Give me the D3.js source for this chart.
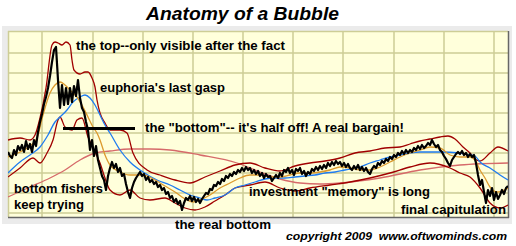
<!DOCTYPE html>
<html><head><meta charset="utf-8">
<script src="https://cdn.jsdelivr.net/npm/d3@7"></script>
<style>html,body{margin:0;padding:0;background:#fff;}svg{display:block;}</style>
</head><body>
<script>
// ---------------- data ----------------
const title = "Anatomy of a Bubble";
const footer = "copyright 2009  www.oftwominds.com";
// price (black), one value every 2 days starting at day 0
const priceStep = 2;
const price = [61,57,55,63,58,67,63,68,61,72,64,69,61,73,67,81,91,99,109,116,125,137,151,163,166,133,105,128,108,125,109,125,111,127,117,133,115,105,101,91,83,63,73,57,67,53,45,37,33,23,37,45,51,45,49,41,45,37,39,29,21,15,25,31,35,38,41,37,39,33,36,31,33,29,31,26,28,23,25,19,21,15,17,11,14,9,12,3,10,15,13,17,12,16,11,14,10,14,17,20,19,24,23,28,27,31,29,34,32,37,35,39,37,41,39,43,41,45,42,46,43,45,40,43,39,42,37,40,35,39,36,37,32,35,38,35,40,37,43,41,45,40,43,38,44,42,45,39,42,37,41,39,44,42,46,43,47,44,48,45,50,47,51,48,52,49,51,47,50,46,49,45,43,47,44,48,43,46,42,45,41,39,44,47,45,50,48,52,50,54,52,56,54,58,56,60,58,62,59,63,60,63,61,65,63,67,64,68,65,67,70,68,73,69,66,68,63,61,57,54,50,47,53,56,59,61,59,62,58,60,56,59,56,58,50,38,28,33,21,10,23,17,25,13,21,14,18,23,19,25,27];
// moving averages and bands: [day, value]
const ma50 = [[0,56],[12,61],[22,67],[29,75],[35,98],[42,120],[47,128],[52,131],[57,128],[62,123],[69,116],[75,106],[80,96],[85,86],[89,80],[92,73],[97,58],[102,48],[112,41],[122,38],[135,38],[147,33],[157,27],[167,21],[179,13],[185,11],[192,13],[202,18],[212,25],[222,30],[232,35],[242,38],[252,38],[262,36],[272,36],[282,38],[292,40],[302,40],[312,41],[322,43],[332,46],[342,45],[352,43],[362,43],[372,46],[382,51],[392,56],[402,60],[412,63],[422,66],[432,65],[442,58],[452,56],[462,56],[467,53],[472,43],[477,35],[482,26],[489,21],[500,25]];
const ma200 = [[0,40],[12,51],[22,58],[32,66],[40,78],[47,91],[52,96],[59,103],[65,111],[72,116],[77,118],[82,115],[87,108],[92,98],[97,88],[102,80],[112,63],[122,51],[135,41],[149,33],[162,28],[172,23],[182,18],[192,15],[199,13],[207,15],[217,18],[227,25],[237,28],[247,31],[257,34],[267,35],[277,35],[287,36],[297,37],[307,38],[317,40],[327,41],[337,43],[352,46],[362,50],[372,53],[382,56],[392,58],[402,60],[412,61],[432,61],[452,60],[462,58],[467,57],[472,51],[482,45],[492,38],[500,33]];
const maLong = [[0,16],[22,26],[42,35],[57,43],[72,53],[87,60],[102,62],[122,64],[142,64],[162,63],[192,58],[229,50],[252,41],[272,34],[292,30],[312,29],[332,30],[372,35],[412,43],[452,48],[500,50]];
const bandUpper = [[0,73],[12,75],[22,73],[27,78],[32,95],[38,125],[44,168],[47,171],[50,170],[54,168],[58,171],[62,168],[64,153],[66,143],[72,139],[77,141],[80,141],[84,135],[87,126],[89,113],[92,100],[97,90],[102,83],[112,83],[119,80],[125,60],[139,43],[152,38],[167,33],[182,30],[197,36],[212,42],[227,48],[242,50],[257,45],[272,42],[287,47],[302,50],[317,52],[332,55],[347,60],[362,62],[377,65],[392,66],[402,69],[412,72],[422,74],[432,76],[440,77],[447,74],[455,66],[462,60],[467,54],[472,52],[482,60],[490,66],[500,62]];
const bandLower = [[0,36],[12,45],[25,55],[32,50],[39,60],[45,73],[50,93],[52,96],[57,86],[64,83],[69,93],[74,95],[80,76],[85,65],[92,50],[97,35],[102,23],[112,18],[122,23],[132,15],[142,13],[157,15],[167,10],[177,5],[187,3],[197,6],[207,12],[217,18],[227,25],[242,28],[257,31],[272,25],[287,22],[302,25],[322,28],[342,31],[362,35],[382,40],[402,46],[422,50],[442,45],[452,40],[462,36],[472,25],[482,10],[492,5],[500,8]];
// "the bottom" marker level
const bottomMark = {from: 55, to: 127, value: 84.5};
// grid
const xGrid = [34,85,135,185,235,285,335,386,436,486];
const yGrid = [0,20,40,60,80,100,120,140,160];
// annotations: [text, day, value(baseline), width]
const notes = [
  ["the top--only visible after the fact", 68, 163, 209],
  ["euphoria's last gasp", 92, 121, 125],
  ["the \"bottom\"-- it's half off! A real bargain!", 137, 81, 259],
  ["bottom fishers", 6, 20, 89],
  ["keep trying", 6, 4, 70],
  ["investment \"memory\" is long", 241, 17, 181],
  ["final capitulation", 393, -1, 105]
];

// ---------------- drawing ----------------
const W = 516, H = 246;
const svg = d3.select("body").append("svg").attr("width", W).attr("height", H);
const plot = {x0: 8, x1: 508, y0: 31, y1: 217};
const x = d3.scaleLinear().domain([0, 500]).range([plot.x0, plot.x1]);
const y = d3.scaleLinear().domain([-4, 182]).range([plot.y1, plot.y0]);

// outer frame
svg.append("rect").attr("x", 2).attr("y", 26).attr("width", 510).attr("height", 198).attr("fill", "#ebebeb");
svg.append("rect").attr("x", plot.x0).attr("y", plot.y0).attr("width", plot.x1 - plot.x0).attr("height", plot.y1 - plot.y0).attr("fill", "#ffffdb");

// grid
const g = svg.append("g");
g.selectAll("line.v").data(xGrid).join("line")
  .attr("x1", d => x(d)).attr("x2", d => x(d)).attr("y1", plot.y0).attr("y2", plot.y1)
  .attr("stroke", "#cdcd96").attr("stroke-width", 1.5);
g.selectAll("line.h").data(yGrid).join("line")
  .attr("x1", plot.x0).attr("x2", plot.x1).attr("y1", d => y(d)).attr("y2", d => y(d))
  .attr("stroke", "#cdcd96").attr("stroke-width", 1.5);
svg.append("line").attr("x1", plot.x0).attr("x2", plot.x1).attr("y1", plot.y0 + 0.5).attr("y2", plot.y0 + 0.5).attr("stroke", "#cdcd96").attr("stroke-width", 1.5);
svg.append("line").attr("x1", plot.x0 + 0.5).attr("x2", plot.x0 + 0.5).attr("y1", plot.y0).attr("y2", plot.y1).attr("stroke", "#cdcd96").attr("stroke-width", 1.5);
// shadow edges
svg.append("line").attr("x1", plot.x1 + 0.5).attr("x2", plot.x1 + 0.5).attr("y1", plot.y0).attr("y2", plot.y1 + 1).attr("stroke", "#666").attr("stroke-width", 1.5);
svg.append("line").attr("x1", plot.x0).attr("x2", plot.x1 + 1).attr("y1", plot.y1 + 0.5).attr("y2", plot.y1 + 0.5).attr("stroke", "#666").attr("stroke-width", 1.5);

svg.append("clipPath").attr("id", "c").append("rect")
  .attr("x", plot.x0).attr("y", plot.y0).attr("width", plot.x1 - plot.x0).attr("height", plot.y1 - plot.y0);
const lines = svg.append("g").attr("clip-path", "url(#c)");

const smooth = d3.line().x(d => x(d[0])).y(d => y(d[1])).curve(d3.curveMonotoneX);
function drawSmooth(data, color, w) {
  lines.append("path").datum(data).attr("d", smooth).attr("fill", "none")
    .attr("stroke", color).attr("stroke-width", w);
}
drawSmooth(maLong, "#d66a6a", 1.3);
drawSmooth(bandUpper, "#a00000", 1.3);
drawSmooth(bandLower, "#a00000", 1.3);
drawSmooth(ma200, "#1f7cf0", 1.3);
drawSmooth(ma50, "#dc9a2e", 1.3);

const priceLine = d3.line().x((d, i) => x(i * priceStep)).y(d => y(d));
lines.append("path").datum(price).attr("d", priceLine).attr("fill", "none")
  .attr("stroke", "#000").attr("stroke-width", 2.2).attr("stroke-linejoin", "round");

// bottom marker bar
svg.append("line").attr("x1", x(bottomMark.from)).attr("x2", x(bottomMark.to))
  .attr("y1", y(bottomMark.value)).attr("y2", y(bottomMark.value))
  .attr("stroke", "#000").attr("stroke-width", 3);

// annotations
const font = "'Liberation Sans', Arial, sans-serif";
svg.selectAll("text.note").data(notes).join("text")
  .attr("x", d => x(d[1])).attr("y", d => y(d[2]))
  .attr("textLength", d => d[3]).attr("lengthAdjust", "spacingAndGlyphs")
  .attr("font-family", font).attr("font-weight", "bold").attr("font-size", 13.5)
  .attr("fill", "#000").text(d => d[0]);

svg.append("text").attr("x", 175).attr("y", 229).attr("textLength", 96).attr("lengthAdjust", "spacingAndGlyphs")
  .attr("font-family", font).attr("font-weight", "bold").attr("font-size", 13.5).text("the real bottom");

svg.append("text").attr("x", 146).attr("y", 20).attr("textLength", 193).attr("lengthAdjust", "spacingAndGlyphs")
  .attr("font-family", font).attr("font-weight", "bold").attr("font-style", "italic").attr("font-size", 19).text(title);

svg.append("text").attr("x", 286).attr("y", 240).attr("textLength", 221).attr("lengthAdjust", "spacingAndGlyphs")
  .attr("font-family", font).attr("font-weight", "bold").attr("font-style", "italic").attr("font-size", 11.5)
  .attr("xml:space", "preserve").text(footer);
</script>
</body></html>
